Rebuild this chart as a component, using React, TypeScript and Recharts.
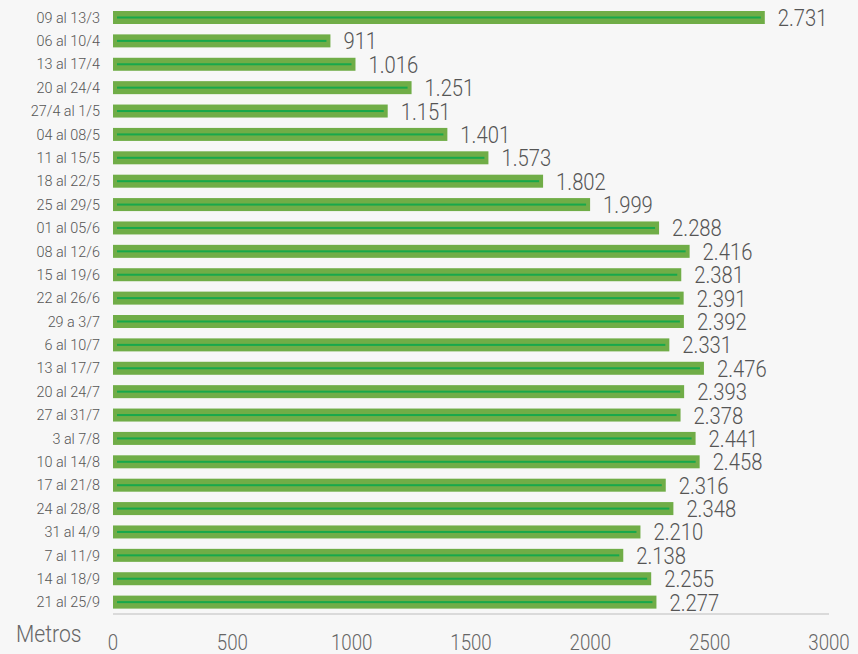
import React from 'react';
import { BarChart, Bar, XAxis, YAxis, LabelList } from 'recharts';

const weeks = [
  '09 al 13/3', '06 al 10/4', '13 al 17/4', '20 al 24/4', '27/4 al 1/5', '04 al 08/5',
  '11 al 15/5', '18 al 22/5', '25 al 29/5', '01 al 05/6', '08 al 12/6', '15 al 19/6',
  '22 al 26/6', '29 a 3/7', '6 al 10/7', '13 al 17/7', '20 al 24/7', '27 al 31/7',
  '3 al 7/8', '10 al 14/8', '17 al 21/8', '24 al 28/8', '31 al 4/9', '7 al 11/9',
  '14 al 18/9', '21 al 25/9',
];
const metros = [
  2731, 911, 1016, 1251, 1151, 1401, 1573, 1802, 1999, 2288, 2416, 2381, 2391, 2392,
  2331, 2476, 2393, 2378, 2441, 2458, 2316, 2348, 2210, 2138, 2255, 2277,
];
const xTicks = [0, 500, 1000, 1500, 2000, 2500, 3000];

const data = weeks.map((w, i) => ({ week: w, value: metros[i] }));

const FONT = 'Roboto, "Liberation Sans", sans-serif';
const TEXT = '#555555';

const fmt = (v: number) => {
  const s = String(v);
  return s.length > 3 ? s.slice(0, s.length - 3) + '.' + s.slice(s.length - 3) : s;
};

const BarShape = (props: any) => {
  const { x, y, width, height } = props;
  if (width <= 0) return null;
  return (
    <g>
      <rect x={x} y={y} width={width} height={height} fill="#70ad47" />
      <rect x={x + 4} y={y + height / 2 - 1} width={Math.max(0, width - 8)} height={2} fill="#17a84b" />
    </g>
  );
};

const ValueLabel = (props: any) => {
  const { x, y, width, height, value } = props;
  const tx = x + width + 13;
  const ty = y + height / 2 + 8.5;
  return (
    <text
      transform={`translate(${tx},${ty}) scale(0.88,1)`}
      fontFamily={FONT}
      fontWeight={300}
      fontSize={23}
      fill={TEXT}
    >
      {fmt(value)}
    </text>
  );
};

const YTick = (props: any) => {
  const { x, y, payload } = props;
  return (
    <text
      transform={`translate(${x},${y + 5}) scale(0.96,1)`}
      textAnchor="end"
      fontFamily={FONT}
      fontWeight={300}
      fontSize={15}
      fill={TEXT}
    >
      {payload.value}
    </text>
  );
};

const XTick = (props: any) => {
  const { x, y, payload } = props;
  return (
    <text
      transform={`translate(${x},${y + 14}) scale(0.85,1)`}
      textAnchor="middle"
      fontFamily={FONT}
      fontWeight={300}
      fontSize={22}
      fill="#666666"
    >
      {payload.value}
    </text>
  );
};

export default function App() {
  return (
    <div style={{ position: 'absolute', left: 0, top: 0, width: 858, height: 654, background: '#f7f7f7', overflow: 'hidden' }}>
      <BarChart
        width={858}
        height={654}
        data={data}
        layout="vertical"
        margin={{ top: 6, right: 29, bottom: 0, left: 0 }}
      >
        <XAxis
          type="number"
          domain={[0, 3000]}
          ticks={xTicks}
          height={40}
          tickLine={false}
          tickSize={0}
          tickMargin={22}
          axisLine={{ stroke: '#d0d0d0', strokeWidth: 1.5 }}
          tick={<XTick />}
          interval={0}
        />
        <YAxis
          type="category"
          dataKey="week"
          width={113}
          tickLine={false}
          axisLine={false}
          tickSize={0}
          tickMargin={13}
          tick={<YTick />}
          interval={0}
        />
        <Bar dataKey="value" barSize={13} shape={<BarShape />} isAnimationActive={false}>
          <LabelList dataKey="value" content={<ValueLabel />} />
        </Bar>
      </BarChart>
      <div
        style={{
          position: 'absolute',
          left: 16,
          top: 620,
          fontFamily: FONT,
          fontWeight: 300,
          fontSize: 24,
          color: '#666666',
          lineHeight: '28px',
          transform: 'scaleX(0.88)',
          transformOrigin: 'left top',
        }}
      >
        Metros
      </div>
    </div>
  );
}
